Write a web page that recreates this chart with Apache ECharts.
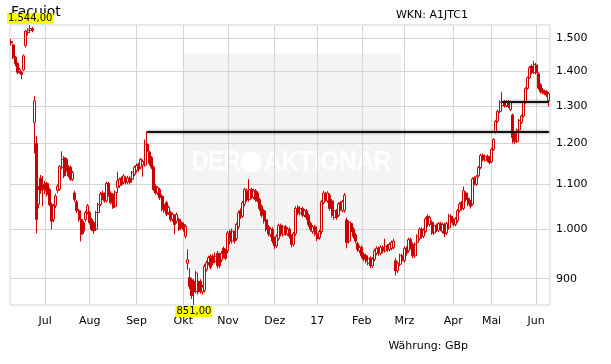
<!DOCTYPE html>
<html><head><meta charset="utf-8">
<script src="https://cdn.jsdelivr.net/npm/echarts/dist/echarts.min.js"></script>
<style>html,body{margin:0;padding:0;background:#fff}#c{width:611px;height:364px}</style>
</head><body><div id="c"></div>
<script>
// ---- data ----
const firstDay = '2016-06-09';
const lastDay = '2017-06-09';
const holidays = ['2016-08-29','2016-12-26','2016-12-27','2017-01-02','2017-04-14','2017-04-17','2017-05-01','2017-05-29'];

const opens = [
1490,1480,1442,1423,1398,1397,1403,1478,1520,1526,
1532,1255,1200,1054,1115,1100,1102,1102,1088,1054,
1021,1051,1086,1088,1141,1164,1160,1141,1141,1112,
1080,1060,1040,1021,1014,1021,1036,1036,1021,1014,
1000,1036,1054,1080,1077,1062,1102,1080,1077,1050,
1093,1097,1115,1105,1115,1105,1115,1112,1124,1133,
1148,1141,1146,1146,1198,1178,1165,1141,1096,1080,
1088,1073,1054,1058,1036,1036,1021,1028,1017,1021,
1015,1010,985,930,902,898,895,876,895,895,
875,878,918,931,944,944,934,950,947,937,
960,955,955,995,975,993,980,1005,1040,1028,
1055,1085,1065,1088,1070,1085,1080,1065,1050,1040,
1020,1005,988,1000,980,965,980,1008,988,1005,
990,1000,985,968,990,1048,1035,1045,1030,1040,
1030,1012,995,1005,990,982,995,1058,1078,1062,
1075,1062,1025,1040,1030,1058,1040,1040,1020,975,
1012,1000,988,970,955,962,948,945,930,940,
925,938,950,960,950,962,955,965,958,960,
962,935,915,928,945,935,960,955,978,968,
945,972,980,1000,985,995,1028,1010,1015,992,
1008,998,1012,995,1010,992,1003,1028,1020,1010,
1018,1040,1058,1045,1080,1068,1060,1055,1115,1100,
1120,1140,1170,1158,1168,1165,1155,1185,1230,1258,
1285,1300,1312,1300,1312,1290,1275,1225,1205,1235,
1255,1272,1310,1349,1380,1415,1395,1418,1392,1360,
1345,1342,1340,1314];

const closes = [
1486,1440,1422,1396,1404,1390,1446,1524,1528,1533,
1526,1314,1021,1088,1086,1088,1085,1077,1054,1017,
1051,1073,1096,1143,1160,1120,1136,1120,1112,1128,
1065,1040,1021,989,996,1036,1051,1014,1000,996,
1036,1054,1077,1069,1062,1102,1077,1058,1048,1082,
1108,1112,1100,1120,1105,1115,1105,1128,1141,1145,
1136,1160,1155,1198,1180,1150,1141,1088,1080,1092,
1069,1043,1040,1032,1047,1021,1032,1010,1032,1000,
1003,1000,1006,937,885,868,875,911,875,877,
884,924,931,941,922,931,944,925,925,950,
945,940,992,975,996,975,1010,1035,1027,1058,
1088,1065,1088,1070,1085,1065,1062,1045,1030,1018,
1000,990,1000,975,965,985,1008,990,1005,990,
1000,985,968,990,1045,1035,1045,1030,1040,1025,
1010,1000,1005,990,980,995,1060,1080,1065,1080,
1045,1030,1040,1025,1055,1045,1060,1075,972,1015,
995,985,975,958,962,945,938,935,940,925,
938,955,960,950,962,955,965,958,968,972,
975,915,930,945,935,960,950,978,962,945,
968,985,1000,985,998,1022,1010,1025,992,1008,
998,1012,1000,1010,990,1012,1028,1015,1010,1022,
1040,1055,1045,1085,1065,1055,1050,1113,1102,1118,
1140,1170,1160,1168,1158,1152,1185,1210,1258,1285,
1310,1312,1300,1312,1298,1310,1215,1205,1235,1260,
1272,1310,1349,1380,1410,1395,1420,1395,1350,1340,
1338,1335,1330,1335];

const lows = [
1478,1436,1414,1390,1392,1376,1400,1472,1510,1518,
1520,1175,991,1045,1078,1050,1078,1072,1050,1000,
1015,1046,1080,1085,1136,1115,1130,1116,1108,1108,
1060,1035,1016,974,990,1016,1032,1010,996,990,
996,1030,1050,1064,1058,1058,1072,1054,1044,1046,
1080,1092,1096,1100,1100,1100,1100,1108,1120,1128,
1130,1136,1118,1142,1172,1145,1136,1084,1076,1075,
1064,1038,1035,1028,1031,1016,1016,989,1012,996,
998,995,980,917,880,862,851,872,870,872,
870,874,914,926,918,926,930,920,920,932,
940,936,950,968,970,970,976,1000,1022,1024,
1050,1060,1060,1066,1066,1060,1058,1040,1025,1012,
995,985,983,970,958,961,976,985,984,986,
986,980,962,964,986,1030,1030,1026,1026,1020,
1005,995,990,985,975,978,990,1054,1060,1058,
1040,1025,1020,1020,1026,1040,1036,1036,960,970,
990,980,970,953,950,940,934,930,926,920,
921,934,946,945,946,950,951,953,954,956,
958,906,911,924,930,931,945,951,958,940,
941,968,976,980,981,991,1005,1006,988,988,
994,994,996,991,983,988,999,1010,1006,1006,
1014,1036,1040,1041,1060,1050,1045,1051,1098,1096,
1116,1136,1155,1154,1153,1148,1151,1181,1226,1254,
1280,1295,1295,1296,1294,1285,1200,1198,1201,1231,
1251,1268,1306,1345,1376,1390,1391,1390,1345,1335,
1332,1330,1325,1298];

const highs = [
1499,1483,1446,1426,1410,1400,1450,1528,1534,1544,
1538,1327,1219,1096,1122,1120,1108,1106,1092,1058,
1055,1078,1100,1146,1180,1168,1164,1146,1145,1132,
1085,1064,1044,1025,1018,1040,1055,1040,1025,1018,
1040,1058,1082,1085,1081,1106,1106,1084,1080,1086,
1130,1116,1119,1124,1119,1120,1119,1132,1145,1150,
1152,1164,1160,1210,1231,1182,1168,1145,1100,1096,
1092,1077,1058,1062,1051,1040,1036,1032,1036,1025,
1019,1014,1010,958,920,902,899,915,900,899,
888,928,935,945,948,948,952,955,951,955,
964,959,996,999,1001,997,1014,1040,1045,1062,
1092,1090,1112,1092,1090,1089,1084,1069,1054,1044,
1024,1009,1004,1004,984,989,1012,1012,1009,1009,
1004,1004,989,994,1050,1052,1050,1049,1044,1044,
1034,1016,1009,1009,994,999,1064,1085,1082,1084,
1079,1066,1044,1044,1059,1062,1064,1080,1025,1019,
1016,1004,992,974,966,966,952,949,944,944,
942,959,964,964,966,966,980,969,972,976,
980,940,934,949,949,964,964,982,982,972,
972,989,1004,1004,1002,1026,1032,1029,1019,1012,
1012,1016,1016,1014,1014,1016,1033,1032,1024,1026,
1044,1059,1062,1095,1084,1072,1064,1117,1119,1122,
1144,1174,1174,1172,1172,1169,1189,1214,1262,1290,
1315,1338,1316,1316,1316,1314,1279,1229,1239,1264,
1276,1314,1353,1384,1415,1420,1430,1424,1396,1364,
1350,1346,1344,1339];

const yTicks = [900, 1000, 1100, 1200, 1300, 1400, 1500];
const monthKeys = ['2016-07','2016-08','2016-09','2016-10','2016-11','2016-12','2017-01','2017-02','2017-03','2017-04','2017-05','2017-06'];
const monthLabels = ['Jul','Aug','Sep','Okt','Nov','Dez','17','Feb','Mrz','Apr','Mai','Jun'];
const levelValues = [1231, 1312];
const levelStartDates = ['2016-09-08', '2017-05-09'];
const titleText = 'Facuiot';
const wknText = 'WKN: A1JTC1';
const currencyText = 'Währung: GBp';
const watermarkWords = ['DER', 'AKTIONÄR'];

// ---- trading-day calendar ----
function tradingDays() {
  const out = [];
  const p = s => { const a = s.split('-').map(Number); return Date.UTC(a[0], a[1] - 1, a[2]); };
  let t = p(firstDay); const end = p(lastDay);
  while (t <= end) {
    const d = new Date(t); const wd = d.getUTCDay(); const s = d.toISOString().slice(0, 10);
    if (wd !== 0 && wd !== 6 && holidays.indexOf(s) < 0) out.push(s);
    t += 86400000;
  }
  return out;
}
const dates = tradingDays();
const candles = dates.map((d, i) => [opens[i], closes[i], lows[i], highs[i]]);
const isMonthStart = i => i > 0 && dates[i].slice(0, 7) !== dates[i - 1].slice(0, 7);
const fmtInt = v => String(Math.round(v)).replace(/\B(?=(\d{3})+(?!\d))/g, '.');
const fmtDec = v => fmtInt(v) + ',00';

const RED = '#cc0000';
const GRID = '#d4d4d4';
const FONT = 'DejaVu Sans';

const chart = echarts.init(document.getElementById('c'), null, { renderer: 'canvas' });
chart.setOption({
  animation: false,
  backgroundColor: '#fff',
  grid: { left: 10, right: 61, top: 25, bottom: 59, show: true, borderColor: GRID, borderWidth: 1, backgroundColor: 'transparent' },
  xAxis: {
    type: 'category', data: dates, boundaryGap: true,
    axisLine: { show: false }, axisTick: { show: false },
    axisLabel: {
      interval: (i) => isMonthStart(i),
      formatter: (v) => monthLabels[monthKeys.indexOf(v.slice(0, 7))],
      color: '#000', fontSize: 11, fontFamily: FONT, margin: 11
    },
    splitLine: { show: true, interval: (i) => isMonthStart(i), alignWithLabel: true, lineStyle: { color: GRID, width: 1 } }
  },
  yAxis: {
    type: 'log', logBase: 10, min: 851, max: 1544, position: 'right', scale: true,
    axisLine: { show: false }, axisTick: { show: false }, axisLabel: { show: false }, splitLine: { show: false }
  },
  graphic: [
    { type: 'rect', z: -10, silent: true, shape: { x: 183, y: 53, width: 218, height: 217 }, style: { fill: '#f4f4f4' } },
    { type: 'text', z: -9, silent: true, x: 192, y: 162, scaleX: 0.82,
      style: { text: watermarkWords[0], fill: '#fff', fontSize: 28, fontWeight: 'bold', fontFamily: 'Liberation Sans', textAlign: 'left', textVerticalAlign: 'middle' } },
    { type: 'circle', z: -9, silent: true, shape: { cx: 251, cy: 162, r: 10.5 }, style: { fill: '#fff' } },
    { type: 'text', z: -9, silent: true, x: 264, y: 162, scaleX: 0.86,
      style: { text: watermarkWords[1], fill: '#fff', fontSize: 28, fontWeight: 'bold', fontFamily: 'Liberation Sans', textAlign: 'left', textVerticalAlign: 'middle' } },
    { type: 'text', silent: true, style: { text: titleText, x: 11, y: 12, fill: '#000', fontSize: 14, fontFamily: FONT, textAlign: 'left', textVerticalAlign: 'middle' } },
    { type: 'text', silent: true, style: { text: wknText, x: 468, y: 15, fill: '#000', fontSize: 11, fontFamily: FONT, textAlign: 'right', textVerticalAlign: 'middle' } },
    { type: 'text', silent: true, style: { text: currencyText, x: 468, y: 346, fill: '#000', fontSize: 11, fontFamily: FONT, textAlign: 'right', textVerticalAlign: 'middle' } }
  ],
  series: [
    {
      type: 'line', data: [], silent: true, z: 1,
      markLine: {
        silent: true, z: 1, animation: false, symbol: ['none', 'none'],
        lineStyle: { color: GRID, width: 1, type: 'solid' },
        label: { show: true, position: 'end', distance: 6, formatter: p => fmtInt(p.value), color: '#000', fontSize: 11, fontFamily: FONT },
        emphasis: { disabled: true },
        data: yTicks.map(v => ({ yAxis: v }))
      }
    },
    {
      type: 'candlestick', data: candles, barWidth: 2.5, barMinWidth: 2.5, barMaxWidth: 2.5, z: 2, silent: true,
      large: false, progressive: 0,
      itemStyle: { color: '#ffffff', color0: RED, borderColor: RED, borderColor0: RED, borderWidth: 1 },
      markLine: {
        silent: true, animation: false, symbol: ['none', 'none'],
        lineStyle: { color: '#111', width: 2, type: 'solid', shadowColor: 'rgba(0,0,0,0.5)', shadowBlur: 3 },
        label: { show: false }, emphasis: { disabled: true },
        data: levelValues.map((v, k) => [{ coord: [levelStartDates[k], v] }, { coord: [dates[dates.length - 1], v] }])
      },
      markPoint: {
        silent: true, animation: false, symbol: 'circle', symbolSize: 0,
        label: { show: true, formatter: p => fmtDec(p.value), backgroundColor: '#ffff00', color: '#000', fontSize: 10, lineHeight: 11, fontFamily: FONT, padding: [0, 1, 0, 1] },
        data: [
          { type: 'max', valueDim: 'highest', label: { position: 'top', distance: 1 } },
          { type: 'min', valueDim: 'lowest', label: { position: 'bottom', distance: 1 } }
        ]
      }
    }
  ]
});
</script></body></html>
